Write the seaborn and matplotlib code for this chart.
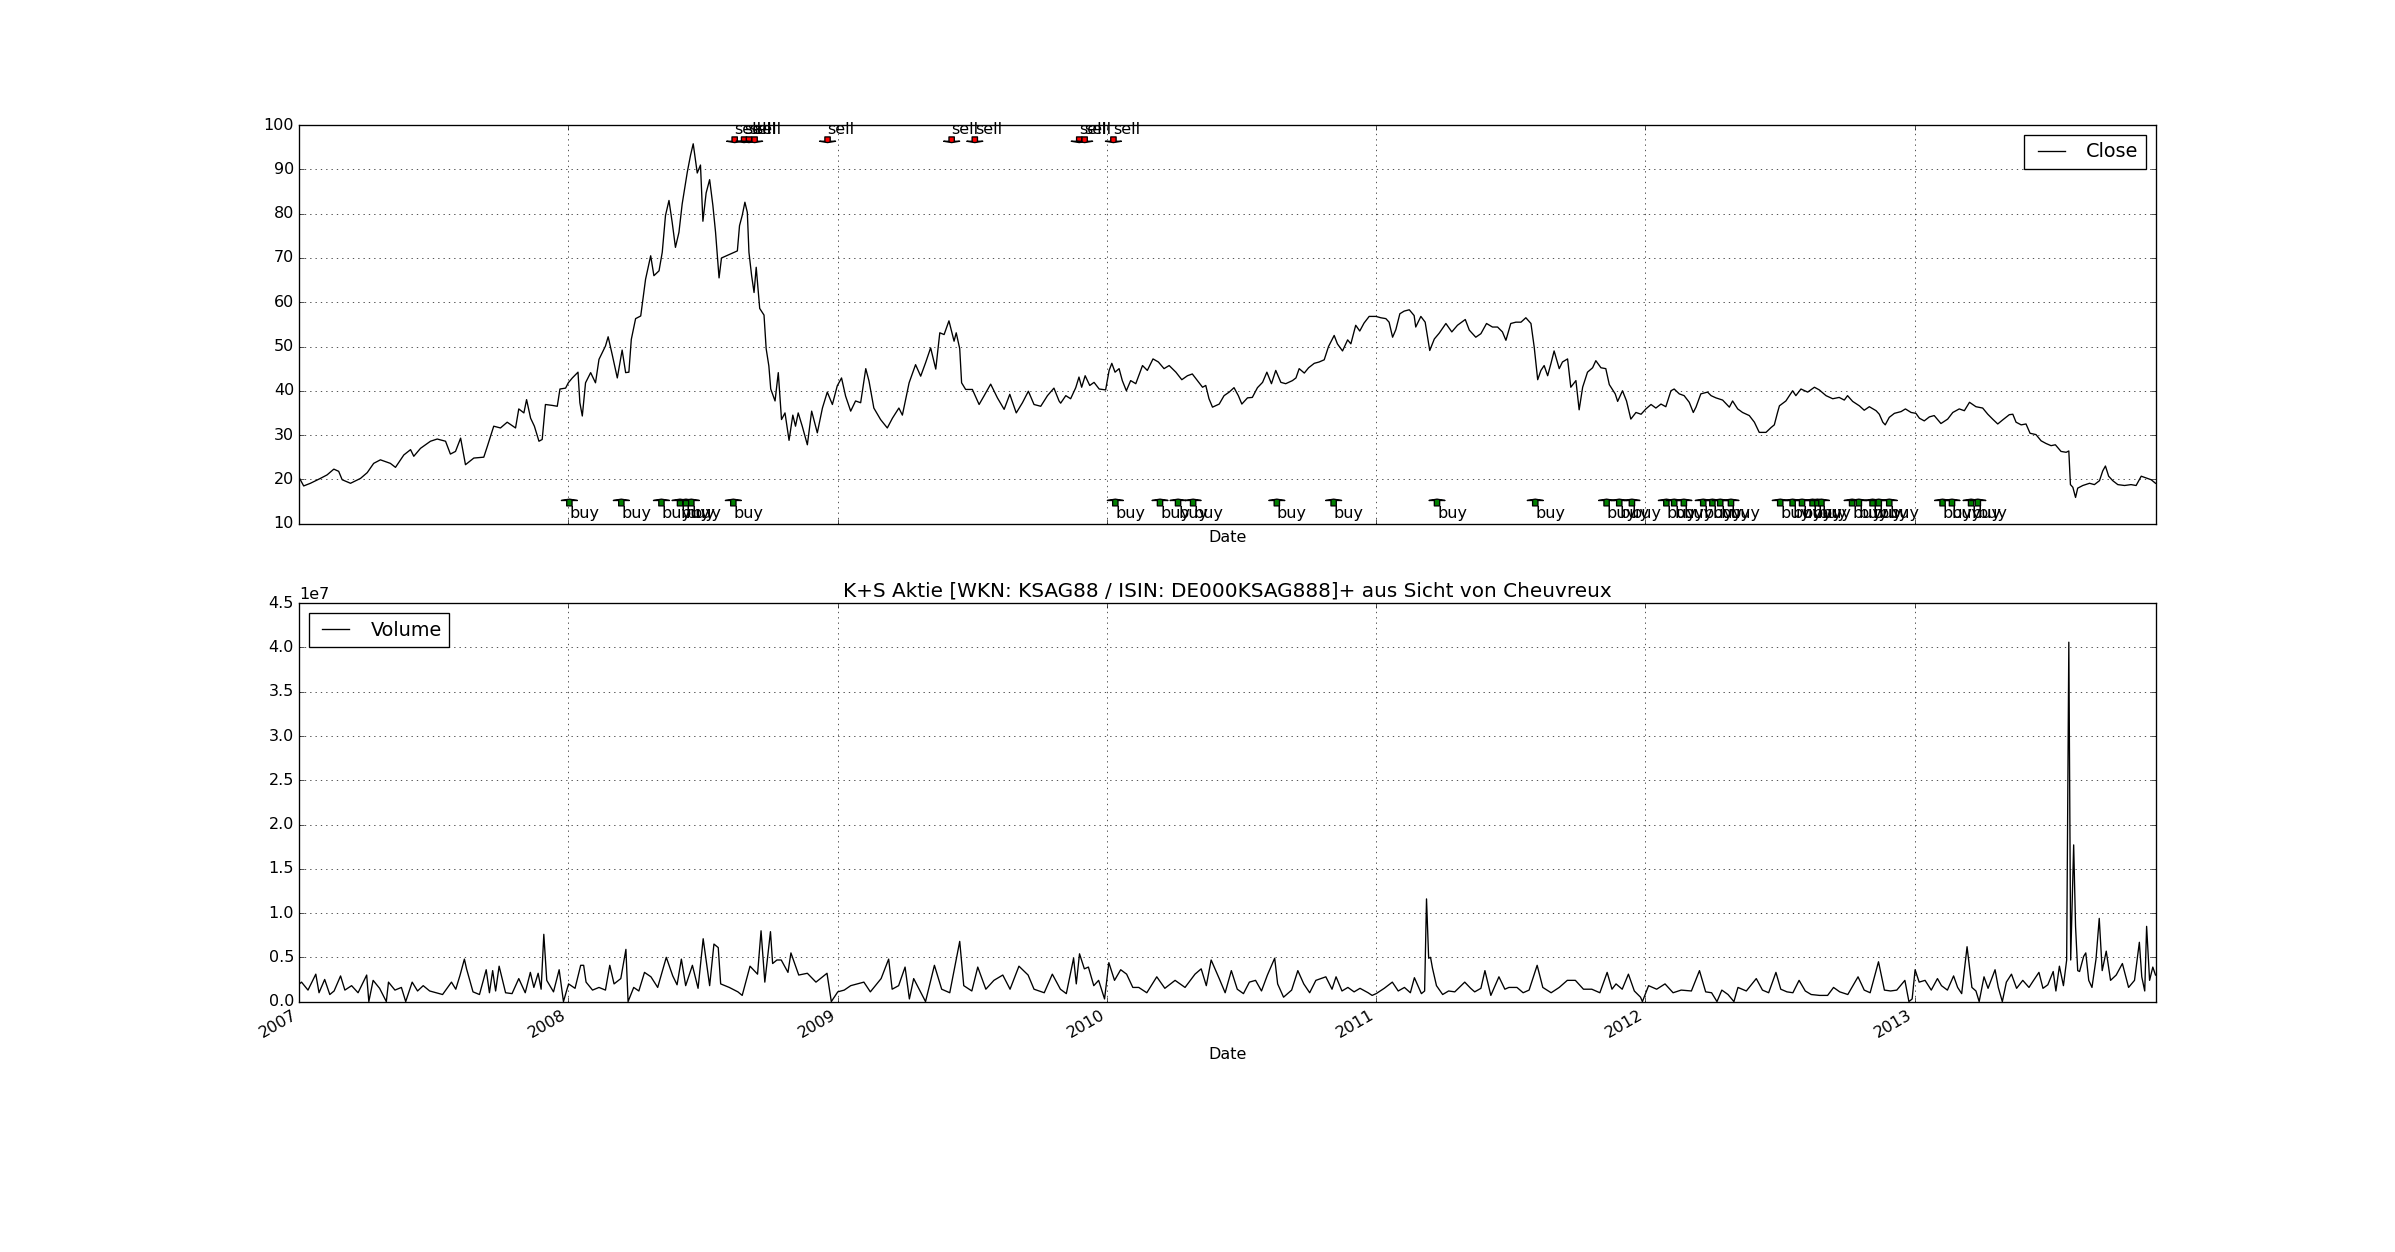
import numpy as np
import pandas as pd
import matplotlib
matplotlib.use('Agg')
import matplotlib.pyplot as plt
import matplotlib.dates as mdates
import seaborn as sns

# Schlusskurs: Zeitpunkt als Dezimaljahr, Kurs in EUR
close_t = [
    2007.000, 2007.016, 2007.041, 2007.078, 2007.103, 2007.128, 2007.146, 2007.159, 2007.190, 2007.227,
    2007.252, 2007.276, 2007.301, 2007.338, 2007.357, 2007.388, 2007.413, 2007.425, 2007.450, 2007.487,
    2007.512, 2007.543, 2007.561, 2007.580, 2007.599, 2007.617, 2007.648, 2007.685, 2007.698, 2007.722,
    2007.747, 2007.772, 2007.803, 2007.815, 2007.834, 2007.844, 2007.859, 2007.873, 2007.890, 2007.902,
    2007.914, 2007.939, 2007.958, 2007.968, 2007.989, 2007.999, 2008.014, 2008.035, 2008.042, 2008.051,
    2008.063, 2008.082, 2008.100, 2008.113, 2008.137, 2008.147, 2008.162, 2008.181, 2008.199, 2008.212,
    2008.224, 2008.233, 2008.249, 2008.268, 2008.286, 2008.305, 2008.317, 2008.336, 2008.348, 2008.360,
    2008.373, 2008.385, 2008.397, 2008.410, 2008.422, 2008.441, 2008.453, 2008.463, 2008.478, 2008.490,
    2008.499, 2008.511, 2008.524, 2008.536, 2008.546, 2008.559, 2008.568, 2008.627, 2008.635, 2008.645,
    2008.655, 2008.664, 2008.670, 2008.680, 2008.689, 2008.697, 2008.710, 2008.726, 2008.734, 2008.744,
    2008.751, 2008.767, 2008.779, 2008.791, 2008.804, 2008.819, 2008.833, 2008.843, 2008.853, 2008.868,
    2008.887, 2008.903, 2008.924, 2008.943, 2008.961, 2008.980, 2008.998, 2009.014, 2009.029, 2009.048,
    2009.066, 2009.085, 2009.104, 2009.116, 2009.134, 2009.159, 2009.184, 2009.203, 2009.227, 2009.240,
    2009.265, 2009.289, 2009.308, 2009.326, 2009.345, 2009.364, 2009.379, 2009.395, 2009.413, 2009.432,
    2009.440, 2009.453, 2009.460, 2009.475, 2009.500, 2009.525, 2009.543, 2009.568, 2009.593, 2009.618,
    2009.639, 2009.663, 2009.686, 2009.708, 2009.729, 2009.754, 2009.779, 2009.803, 2009.822, 2009.828,
    2009.847, 2009.865, 2009.884, 2009.896, 2009.906, 2009.919, 2009.936, 2009.952, 2009.971, 2009.995,
    2010.008, 2010.018, 2010.030, 2010.045, 2010.057, 2010.072, 2010.088, 2010.107, 2010.132, 2010.150,
    2010.171, 2010.191, 2010.212, 2010.231, 2010.256, 2010.278, 2010.299, 2010.317, 2010.336, 2010.355,
    2010.367, 2010.379, 2010.392, 2010.417, 2010.435, 2010.454, 2010.472, 2010.488, 2010.501, 2010.522,
    2010.540, 2010.559, 2010.578, 2010.594, 2010.611, 2010.627, 2010.646, 2010.664, 2010.689, 2010.702,
    2010.714, 2010.733, 2010.749, 2010.770, 2010.788, 2010.807, 2010.823, 2010.844, 2010.856, 2010.875,
    2010.894, 2010.906, 2010.924, 2010.939, 2010.955, 2010.974, 2010.999, 2011.017, 2011.036, 2011.048,
    2011.061, 2011.073, 2011.088, 2011.104, 2011.123, 2011.141, 2011.147, 2011.166, 2011.182, 2011.199,
    2011.216, 2011.234, 2011.259, 2011.281, 2011.302, 2011.331, 2011.346, 2011.370, 2011.389, 2011.410,
    2011.432, 2011.451, 2011.469, 2011.482, 2011.500, 2011.519, 2011.538, 2011.556, 2011.575, 2011.587,
    2011.600, 2011.612, 2011.624, 2011.637, 2011.649, 2011.661, 2011.680, 2011.692, 2011.711, 2011.723,
    2011.742, 2011.754, 2011.767, 2011.785, 2011.804, 2011.816, 2011.835, 2011.853, 2011.866, 2011.888,
    2011.897, 2011.915, 2011.930, 2011.946, 2011.965, 2011.984, 2012.002, 2012.021, 2012.039, 2012.058,
    2012.076, 2012.095, 2012.107, 2012.126, 2012.144, 2012.163, 2012.178, 2012.188, 2012.206, 2012.231,
    2012.244, 2012.262, 2012.287, 2012.312, 2012.324, 2012.343, 2012.361, 2012.386, 2012.405, 2012.423,
    2012.448, 2012.467, 2012.479, 2012.491, 2012.498, 2012.522, 2012.547, 2012.559, 2012.578, 2012.603,
    2012.628, 2012.646, 2012.671, 2012.696, 2012.720, 2012.739, 2012.751, 2012.770, 2012.795, 2012.813,
    2012.832, 2012.857, 2012.869, 2012.882, 2012.891, 2012.906, 2012.925, 2012.950, 2012.966, 2012.987,
    2013.005, 2013.018, 2013.036, 2013.055, 2013.073, 2013.098, 2013.123, 2013.142, 2013.166, 2013.185,
    2013.204, 2013.228, 2013.253, 2013.272, 2013.290, 2013.309, 2013.327, 2013.352, 2013.365, 2013.377,
    2013.396, 2013.414, 2013.429, 2013.451, 2013.470, 2013.488, 2013.507, 2013.523, 2013.544, 2013.563,
    2013.573, 2013.579, 2013.588, 2013.598, 2013.606, 2013.625, 2013.650, 2013.668, 2013.687, 2013.699,
    2013.709, 2013.721, 2013.736, 2013.755, 2013.780, 2013.804, 2013.823, 2013.842, 2013.860, 2013.879,
    2013.895,
]
close_v = [
    20.3, 18.5, 19.1, 20.2, 21.0, 22.3, 21.8, 19.9, 19.1, 20.2,
    21.5, 23.6, 24.4, 23.6, 22.7, 25.5, 26.7, 25.2, 27.0, 28.6,
    29.1, 28.6, 25.7, 26.3, 29.3, 23.3, 24.8, 25.0, 27.4, 32.0,
    31.6, 32.9, 31.6, 35.9, 35.0, 38.0, 33.8, 32.0, 28.6, 29.0,
    36.9, 36.7, 36.5, 40.4, 40.6, 41.8, 42.9, 44.2, 37.3, 34.3,
    41.8, 44.1, 41.8, 47.1, 50.1, 52.2, 48.2, 42.9, 49.2, 44.1,
    44.2, 51.6, 56.3, 56.9, 65.2, 70.5, 66.0, 67.1, 71.3, 79.6,
    83.0, 78.0, 72.4, 75.8, 82.2, 89.4, 93.2, 95.8, 89.2, 91.0,
    78.3, 84.7, 87.7, 81.9, 75.8, 65.5, 70.0, 71.6, 77.3, 79.6,
    82.6, 80.3, 71.3, 66.0, 62.2, 67.9, 58.6, 57.1, 49.5, 45.6,
    40.4, 37.7, 44.1, 33.5, 35.0, 28.8, 34.5, 32.0, 35.0, 32.0,
    27.8, 35.4, 30.5, 36.1, 39.7, 36.9, 41.1, 42.9, 38.8, 35.4,
    37.7, 37.3, 45.0, 42.2, 36.1, 33.5, 31.6, 33.8, 36.1, 34.5,
    41.8, 45.9, 43.3, 46.3, 49.7, 44.9, 53.1, 52.7, 55.8, 51.2,
    53.1, 49.5, 41.8, 40.3, 40.3, 36.9, 38.8, 41.5, 38.4, 35.8,
    39.2, 35.0, 37.3, 39.9, 36.9, 36.5, 38.9, 40.6, 37.7, 37.2,
    38.9, 38.2, 40.7, 43.1, 40.8, 43.4, 41.2, 41.9, 40.4, 40.2,
    44.6, 46.2, 44.2, 45.0, 42.3, 40.0, 42.3, 41.6, 45.7, 44.6,
    47.2, 46.5, 45.0, 45.7, 44.2, 42.5, 43.4, 43.8, 42.3, 40.8,
    41.2, 38.2, 36.3, 37.0, 38.9, 39.7, 40.7, 38.9, 37.0, 38.4,
    38.5, 40.7, 41.9, 44.2, 41.6, 44.6, 41.9, 41.6, 42.3, 42.9,
    45.0, 44.0, 45.2, 46.2, 46.5, 47.0, 50.0, 52.5, 50.6, 49.0,
    51.5, 50.6, 54.8, 53.5, 55.3, 56.8, 56.8, 56.5, 56.3, 55.5,
    52.1, 53.8, 57.4, 58.0, 58.3, 57.0, 54.4, 56.8, 55.5, 49.1,
    51.7, 53.0, 55.2, 53.3, 54.8, 56.1, 53.7, 52.1, 52.9, 55.2,
    54.4, 54.4, 53.3, 51.4, 55.2, 55.5, 55.5, 56.5, 55.2, 49.9,
    42.5, 44.6, 45.7, 43.4, 46.1, 49.0, 45.0, 46.5, 47.2, 40.8,
    42.3, 35.7, 40.8, 44.2, 45.2, 46.8, 45.2, 45.0, 41.4, 39.3,
    37.6, 40.0, 37.7, 33.6, 35.1, 34.7, 35.9, 36.9, 36.1, 37.0,
    36.4, 40.0, 40.4, 39.3, 38.9, 37.4, 35.1, 36.3, 39.3, 39.7,
    38.9, 38.4, 37.9, 36.3, 37.7, 35.9, 35.1, 34.4, 32.9, 30.6,
    30.6, 31.7, 32.3, 35.1, 36.6, 37.7, 40.0, 38.9, 40.4, 39.7,
    40.8, 40.2, 38.9, 38.2, 38.5, 37.9, 38.9, 37.6, 36.6, 35.6,
    36.4, 35.5, 34.7, 32.9, 32.3, 34.0, 34.9, 35.3, 35.9, 35.1,
    34.9, 33.8, 33.2, 34.1, 34.4, 32.6, 33.6, 35.1, 35.9, 35.5,
    37.4, 36.4, 36.1, 34.7, 33.6, 32.5, 33.4, 34.6, 34.7, 32.9,
    32.3, 32.5, 30.4, 30.1, 28.7, 28.1, 27.6, 27.8, 26.3, 26.1,
    26.4, 18.8, 18.2, 15.9, 18.0, 18.6, 19.1, 18.8, 19.7, 21.9,
    23.0, 20.7, 19.7, 18.8, 18.6, 18.8, 18.6, 20.7, 20.3, 19.9,
    19.1,
]

# Handelsvolumen in Mio. Stueck
vol_t = [
    2007.000, 2007.008, 2007.032, 2007.061, 2007.073, 2007.094, 2007.113, 2007.129, 2007.153, 2007.169,
    2007.194, 2007.218, 2007.250, 2007.258, 2007.274, 2007.298, 2007.323, 2007.331, 2007.355, 2007.379,
    2007.395, 2007.419, 2007.439, 2007.460, 2007.484, 2007.508, 2007.532, 2007.565, 2007.581, 2007.597,
    2007.613, 2007.621, 2007.645, 2007.669, 2007.694, 2007.706, 2007.718, 2007.729, 2007.742, 2007.766,
    2007.790, 2007.815, 2007.839, 2007.858, 2007.871, 2007.887, 2007.898, 2007.908, 2007.919, 2007.944,
    2007.965, 2007.981, 2008.000, 2008.024, 2008.045, 2008.056, 2008.065, 2008.089, 2008.113, 2008.137,
    2008.153, 2008.169, 2008.194, 2008.213, 2008.221, 2008.242, 2008.261, 2008.282, 2008.306, 2008.331,
    2008.363, 2008.387, 2008.403, 2008.419, 2008.435, 2008.460, 2008.481, 2008.500, 2008.524, 2008.540,
    2008.556, 2008.565, 2008.597, 2008.629, 2008.645, 2008.674, 2008.702, 2008.715, 2008.729, 2008.750,
    2008.758, 2008.774, 2008.790, 2008.815, 2008.826, 2008.855, 2008.887, 2008.919, 2008.960, 2008.976,
    2009.000, 2009.024, 2009.048, 2009.097, 2009.121, 2009.161, 2009.189, 2009.202, 2009.226, 2009.250,
    2009.266, 2009.282, 2009.326, 2009.359, 2009.386, 2009.416, 2009.453, 2009.468, 2009.498, 2009.520,
    2009.550, 2009.580, 2009.613, 2009.640, 2009.673, 2009.707, 2009.729, 2009.767, 2009.797, 2009.827,
    2009.849, 2009.876, 2009.886, 2009.898, 2009.916, 2009.931, 2009.951, 2009.969, 2009.991, 2010.007,
    2010.028, 2010.051, 2010.073, 2010.096, 2010.118, 2010.148, 2010.185, 2010.215, 2010.253, 2010.290,
    2010.327, 2010.350, 2010.369, 2010.387, 2010.417, 2010.439, 2010.462, 2010.484, 2010.507, 2010.529,
    2010.552, 2010.574, 2010.596, 2010.623, 2010.634, 2010.656, 2010.686, 2010.709, 2010.731, 2010.753,
    2010.776, 2010.813, 2010.836, 2010.851, 2010.873, 2010.895, 2010.918, 2010.940, 2010.970, 2010.985,
    2011.000, 2011.030, 2011.060, 2011.082, 2011.105, 2011.127, 2011.142, 2011.168, 2011.180, 2011.187,
    2011.195, 2011.202, 2011.209, 2011.224, 2011.247, 2011.269, 2011.292, 2011.329, 2011.351, 2011.366,
    2011.389, 2011.404, 2011.426, 2011.456, 2011.478, 2011.493, 2011.523, 2011.546, 2011.568, 2011.598,
    2011.619, 2011.650, 2011.680, 2011.710, 2011.740, 2011.770, 2011.801, 2011.831, 2011.858, 2011.876,
    2011.891, 2011.914, 2011.937, 2011.959, 2011.982, 2011.989, 2012.012, 2012.042, 2012.073, 2012.103,
    2012.133, 2012.171, 2012.201, 2012.224, 2012.246, 2012.266, 2012.284, 2012.307, 2012.329, 2012.344,
    2012.375, 2012.412, 2012.435, 2012.458, 2012.485, 2012.503, 2012.526, 2012.548, 2012.571, 2012.594,
    2012.616, 2012.647, 2012.677, 2012.699, 2012.722, 2012.752, 2012.790, 2012.813, 2012.835, 2012.866,
    2012.888, 2012.911, 2012.934, 2012.964, 2012.979, 2012.991, 2013.002, 2013.017, 2013.039, 2013.062,
    2013.085, 2013.100, 2013.122, 2013.145, 2013.160, 2013.175, 2013.195, 2013.213, 2013.228, 2013.240,
    2013.258, 2013.273, 2013.299, 2013.311, 2013.326, 2013.341, 2013.360, 2013.379, 2013.402, 2013.425,
    2013.440, 2013.462, 2013.477, 2013.495, 2013.515, 2013.525, 2013.538, 2013.553, 2013.565, 2013.573,
    2013.580, 2013.591, 2013.598, 2013.606, 2013.613, 2013.628, 2013.636, 2013.647, 2013.659, 2013.674,
    2013.686, 2013.697, 2013.712, 2013.728, 2013.749, 2013.772, 2013.795, 2013.817, 2013.835, 2013.844,
    2013.855, 2013.862, 2013.873, 2013.885, 2013.895,
]
vol_mio = [
    2.0, 2.2, 1.3, 3.1, 1.0, 2.5, 0.8, 1.2, 2.9, 1.3,
    1.8, 1.0, 3.0, 0.0, 2.4, 1.5, 0.0, 2.2, 1.3, 1.6,
    0.0, 2.2, 1.2, 1.8, 1.2, 1.0, 0.8, 2.2, 1.4, 3.0,
    4.8, 3.7, 1.1, 0.8, 3.6, 1.0, 3.5, 1.2, 4.0, 1.0,
    0.9, 2.6, 1.0, 3.3, 1.6, 3.2, 1.4, 7.6, 2.4, 1.1,
    3.6, 0.0, 2.0, 1.5, 4.1, 4.1, 2.2, 1.3, 1.6, 1.3,
    4.1, 2.0, 2.6, 5.9, 0.0, 1.6, 1.2, 3.3, 2.8, 1.6,
    5.0, 2.9, 1.9, 4.8, 1.8, 4.1, 1.5, 7.1, 1.8, 6.5,
    6.1, 2.0, 1.6, 1.1, 0.7, 4.0, 3.1, 8.0, 2.2, 7.9,
    4.3, 4.7, 4.7, 3.3, 5.5, 3.0, 3.2, 2.2, 3.2, 0.0,
    1.1, 1.3, 1.8, 2.2, 1.1, 2.6, 4.8, 1.4, 1.8, 3.9,
    0.3, 2.6, 0.0, 4.1, 1.4, 1.0, 6.8, 1.8, 1.2, 3.9,
    1.4, 2.4, 3.0, 1.4, 4.0, 3.0, 1.4, 1.0, 3.1, 1.4,
    0.9, 4.9, 2.0, 5.4, 3.7, 3.9, 1.8, 2.4, 0.3, 4.4,
    2.4, 3.6, 3.1, 1.6, 1.6, 1.0, 2.8, 1.5, 2.4, 1.6,
    3.1, 3.7, 1.8, 4.7, 2.6, 1.0, 3.5, 1.4, 0.9, 2.2,
    2.4, 1.2, 3.0, 4.9, 2.0, 0.5, 1.3, 3.5, 2.0, 1.0,
    2.4, 2.8, 1.4, 2.8, 1.2, 1.6, 1.1, 1.5, 1.0, 0.7,
    0.9, 1.5, 2.2, 1.2, 1.6, 1.0, 2.7, 0.9, 1.2, 11.6,
    4.9, 5.0, 3.8, 1.8, 0.8, 1.2, 1.1, 2.2, 1.5, 1.1,
    1.5, 3.5, 0.7, 2.8, 1.4, 1.6, 1.6, 1.0, 1.3, 4.1,
    1.6, 1.0, 1.6, 2.4, 2.4, 1.4, 1.4, 1.0, 3.3, 1.4,
    2.0, 1.4, 3.1, 1.2, 0.5, 0.0, 1.8, 1.4, 2.0, 1.0,
    1.3, 1.2, 3.5, 1.1, 1.0, 0.0, 1.3, 0.8, 0.0, 1.6,
    1.2, 2.6, 1.3, 1.0, 3.3, 1.4, 1.1, 1.0, 2.4, 1.2,
    0.8, 0.7, 0.7, 1.6, 1.1, 0.8, 2.8, 1.3, 1.0, 4.5,
    1.3, 1.2, 1.3, 2.4, 0.0, 0.3, 3.6, 2.2, 2.4, 1.3,
    2.6, 1.8, 1.3, 2.9, 1.6, 0.9, 6.2, 1.6, 1.2, 0.0,
    2.8, 1.5, 3.6, 1.6, 0.0, 2.2, 3.1, 1.5, 2.4, 1.6,
    2.3, 3.3, 1.5, 1.9, 3.4, 1.2, 4.0, 1.8, 4.7, 40.6,
    4.7, 17.7, 8.5, 3.5, 3.4, 5.1, 5.5, 2.4, 1.6, 4.8,
    9.4, 3.5, 5.7, 2.4, 3.0, 4.3, 1.6, 2.4, 6.7, 2.8,
    1.2, 8.5, 2.4, 3.9, 3.0,
]

# Signale (Dezimaljahr)
buy_t = [
    2008.003, 2008.196, 2008.345, 2008.414, 2008.436, 2008.456, 2008.612,
    2010.031, 2010.197, 2010.264, 2010.320, 2010.631, 2010.842, 2011.226, 2011.591,
    2011.856, 2011.903, 2011.950, 2012.078, 2012.107, 2012.143, 2012.215, 2012.249,
    2012.278, 2012.318, 2012.501, 2012.547, 2012.582, 2012.621, 2012.639, 2012.654,
    2012.768, 2012.793, 2012.844, 2012.867, 2012.906, 2013.104, 2013.139, 2013.210,
    2013.235,
]
sell_t = [
    2008.617, 2008.652, 2008.670, 2008.691, 2008.962, 2009.423, 2009.509,
    2009.897, 2009.917, 2010.024,
]

title = 'K+S Aktie [WKN: KSAG88 / ISIN: DE000KSAG888]+ aus Sicht von Cheuvreux'


def to_dates(t):
    t = np.asarray(t, dtype=float)
    return pd.to_datetime('2007-01-01') + pd.to_timedelta((t - 2007) * 365.25, unit='D')


close_df = pd.DataFrame({'Date': to_dates(close_t), 'Close': close_v})
vol_df = pd.DataFrame({'Date': to_dates(vol_t), 'Volume': np.array(vol_mio) * 1e6})

plt.style.use('classic')
plt.rcParams['font.family'] = ['DejaVu Sans']

fig, (ax1, ax2) = plt.subplots(2, 1, figsize=(2395 / 96, 1252 / 96), dpi=96)
fig.subplots_adjust(left=0.125, right=0.9, top=0.9, bottom=0.2, hspace=0.2)

# unsichtbare Box ohne Rand, damit der Pfeil direkt am Text ansetzt
no_box = dict(boxstyle='square,pad=0', fc='none', ec='none', lw=0)

# oben: Kurs mit Kauf-/Verkaufssignalen
sns.lineplot(data=close_df, x='Date', y='Close', ax=ax1, color='k', linewidth=1.0, label='Close')
for d in to_dates(buy_t):
    x = mdates.date2num(d)
    ax1.annotate('buy', xy=(x, 15.6), xytext=(x, 11.2), fontsize=12, bbox=no_box,
                 arrowprops=dict(facecolor='green', width=4, headwidth=12, headlength=1, shrink=0.05))
for d in to_dates(sell_t):
    x = mdates.date2num(d)
    ax1.annotate('sell', xy=(x, 96.0), xytext=(x, 98.1), fontsize=12, bbox=no_box,
                 arrowprops=dict(facecolor='red', width=4, headwidth=12, headlength=1, shrink=0.05))
ax1.set_ylim(10, 100)
ax1.legend(loc='upper right')

# unten: Volumen
sns.lineplot(data=vol_df, x='Date', y='Volume', ax=ax2, color='k', linewidth=1.0, label='Volume')
ax2.set_ylim(0, 4.5e7)
ax2.legend(loc='upper left')
ax2.set_title(title, fontsize=15)

xmin, xmax = close_df['Date'].iloc[0], close_df['Date'].iloc[-1]
for ax in (ax1, ax2):
    ax.set_xlim(xmin, xmax)
    ax.xaxis.set_major_locator(mdates.YearLocator())
    ax.xaxis.set_major_formatter(mdates.DateFormatter('%Y'))
    ax.grid(True)
    ax.set_xlabel('Date')
    ax.set_ylabel('')

ax1.tick_params(axis='x', labelbottom=False)
for lbl in ax2.get_xticklabels():
    lbl.set_rotation(30)
    lbl.set_ha('right')

fig.savefig('out.png', dpi=96, facecolor='white')
